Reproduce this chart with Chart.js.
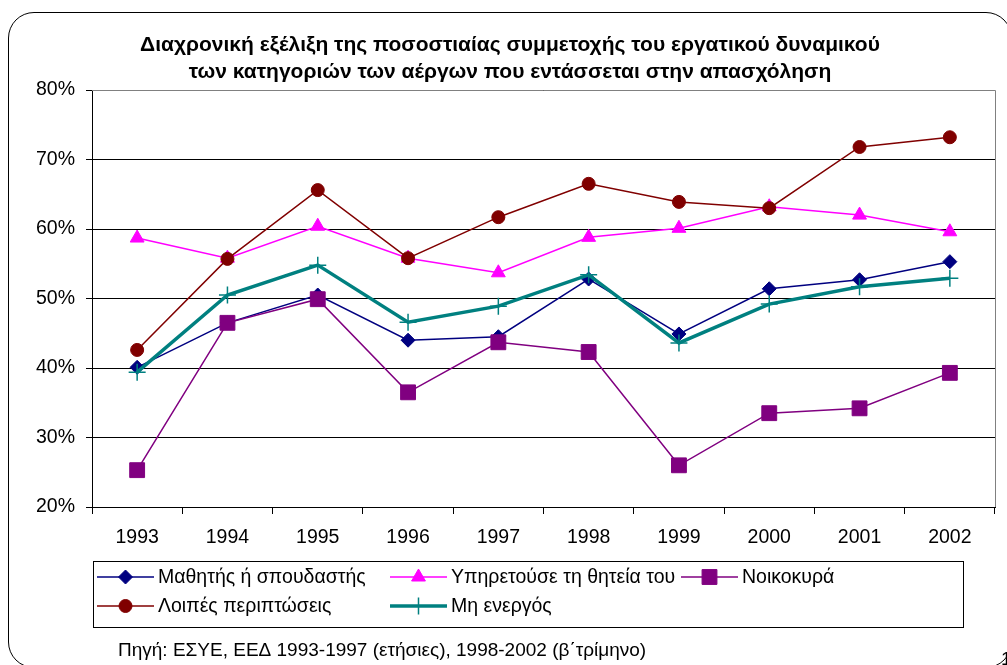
<!DOCTYPE html>
<html lang="el">
<head>
<meta charset="utf-8">
<title>Συμμετοχή του εργατικού δυναμικού</title>
<script src="https://cdn.jsdelivr.net/npm/chart.js@4.4.1/dist/chart.umd.min.js"></script>
<style>
  html, body { margin: 0; padding: 0; background: #fff; }
  #wrap { position: relative; width: 1007px; height: 665px; overflow: hidden; }
  #frame {
    position: absolute; left: 8px; top: 12px; width: 1004px; height: 656px;
    border: 1px solid #000; border-radius: 26px; box-sizing: border-box;
  }
  canvas { position: absolute; left: 0; top: 0; }
</style>
</head>
<body>
<div id="wrap">
  <div id="frame"></div>
  <canvas id="c" width="1007" height="665"></canvas>
</div>
<script>
// Years on the horizontal axis
const years = ['1993', '1994', '1995', '1996', '1997', '1998', '1999', '2000', '2001', '2002'];

// Participation share (%) for each category
const students   = [40.1, 46.5, 50.5, 44.0, 44.5, 52.8, 44.9, 51.4, 52.7, 55.3];
const military   = [58.7, 55.8, 60.4, 55.8, 53.7, 58.8, 60.1, 63.2, 62.0, 59.6];
const homemakers = [25.3, 46.5, 49.9, 36.5, 43.7, 42.3, 26.0, 33.5, 34.2, 39.3];
const others     = [42.6, 55.7, 65.6, 55.8, 61.7, 66.5, 63.9, 63.0, 71.8, 73.2];
const inactive   = [39.4, 50.5, 54.8, 46.6, 48.9, 53.4, 43.6, 49.2, 51.7, 52.9];

const seriesNames = ['Μαθητής ή σπουδαστής', 'Υπηρετούσε τη θητεία του', 'Νοικοκυρά', 'Λοιπές περιπτώσεις', 'Μη ενεργός'];
const yTicks = [20, 30, 40, 50, 60, 70, 80];

const titleLines = ['Διαχρονική εξέλιξη της ποσοστιαίας συμμετοχής του εργατικού δυναμικού',
                    'των κατηγοριών των αέργων που εντάσσεται στην απασχόληση'];
const sourceText = 'Πηγή: ΕΣΥΕ, ΕΕΔ 1993-1997 (ετήσιες), 1998-2002 (β΄τρίμηνο)';

const FONT = '"Liberation Sans", Arial, sans-serif';
const TEXT_SIZE = 19.5;

function series(label, data, color, style, radius, width, order) {
  return {
    label, data,
    borderColor: color, backgroundColor: color,
    pointBackgroundColor: color, pointBorderColor: color,
    pointStyle: style, pointRadius: radius, pointHoverRadius: radius,
    pointBorderWidth: style === 'cross' ? 1.5 : 1,
    borderWidth: width, tension: 0, order
  };
}

// Title, plot border, legend box and source note drawn on the canvas
const decorations = {
  id: 'decorations',
  afterDraw(chart) {
    const ctx = chart.ctx;
    const area = chart.chartArea;
    ctx.save();

    // two-line title
    ctx.fillStyle = '#000';
    ctx.font = 'bold 21px ' + FONT;
    ctx.textAlign = 'center';
    ctx.textBaseline = 'middle';
    ctx.fillText(titleLines[0], 510, 45);
    ctx.fillText(titleLines[1], 510, 72);

    // plot area border (top and right)
    ctx.strokeStyle = '#808080';
    ctx.lineWidth = 1;
    ctx.beginPath();
    ctx.moveTo(area.left, area.top + 0.5);
    ctx.lineTo(area.right + 0.5, area.top + 0.5);
    ctx.lineTo(area.right + 0.5, area.bottom);
    ctx.stroke();

    // legend box
    ctx.strokeStyle = '#000';
    ctx.strokeRect(93.5, 561.5, 870, 66);
    const cols = [97, 390, 681];
    const rows = [577, 606];
    const slots = [[0, 0], [1, 0], [2, 0], [0, 1], [1, 1]];
    ctx.font = TEXT_SIZE + 'px ' + FONT;
    ctx.textAlign = 'left';
    chart.data.datasets.forEach((ds, i) => {
      const x = cols[slots[i][0]], y = rows[slots[i][1]];
      ctx.strokeStyle = ds.borderColor;
      ctx.lineWidth = ds.borderWidth;
      ctx.beginPath();
      ctx.moveTo(x, y); ctx.lineTo(x + 57, y);
      ctx.stroke();
      ctx.fillStyle = ds.pointBackgroundColor;
      ctx.strokeStyle = ds.pointBorderColor;
      ctx.lineWidth = ds.pointBorderWidth;
      Chart.helpers.drawPoint(ctx, { pointStyle: ds.pointStyle, radius: ds.pointRadius, rotation: 0, borderWidth: ds.pointBorderWidth }, x + 28.5, y);
      ctx.fillStyle = '#000';
      ctx.fillText(ds.label, x + 61, y + 1);
    });

    // source note
    ctx.font = '19px ' + FONT;
    ctx.fillStyle = '#000';
    ctx.fillText(sourceText, 118, 651);
    ctx.fillText('1', 1001, 660);
    ctx.restore();
  }
};

new Chart(document.getElementById('c'), {
  type: 'line',
  data: {
    labels: years,
    datasets: [
      series(seriesNames[0], students,   '#000080', 'rectRot', 7,    1.5, 5),
      series(seriesNames[1], military,   '#FF00FF', 'triangle', 8,   1.5, 4),
      series(seriesNames[2], homemakers, '#800080', 'rect',    10.5, 1.5, 3),
      series(seriesNames[3], others,     '#800000', 'circle',  6.5,  1.5, 2),
      series(seriesNames[4], inactive,   '#008080', 'cross',   8.5,  3.5, 1)
    ]
  },
  options: {
    responsive: false,
    animation: false,
    events: [],
    layout: { padding: { left: 0, right: 12, top: 90, bottom: 0 } },
    plugins: {
      legend: { display: false },
      tooltip: { enabled: false },
      title: { display: false }
    },
    scales: {
      x: {
        offset: true,
        grid: { display: true, drawOnChartArea: false, offset: true, color: '#000', tickLength: 7, lineWidth: 1 },
        border: { color: '#000', width: 1 },
        ticks: { color: '#000', font: { family: FONT, size: TEXT_SIZE }, padding: 12, maxRotation: 0 },
        afterFit(scale) { scale.height = 158; }
      },
      y: {
        min: 20, max: 80,
        afterBuildTicks(scale) { scale.ticks = yTicks.map(v => ({ value: v })); },
        grid: { color: '#000', lineWidth: 1, tickLength: 6, drawTicks: true },
        border: { color: '#000', width: 1 },
        ticks: {
          color: '#000', font: { family: FONT, size: TEXT_SIZE }, padding: 11,
          callback: v => v + '%'
        },
        afterFit(scale) { scale.width = 92; }
      }
    }
  },
  plugins: [decorations]
});
</script>
</body>
</html>
